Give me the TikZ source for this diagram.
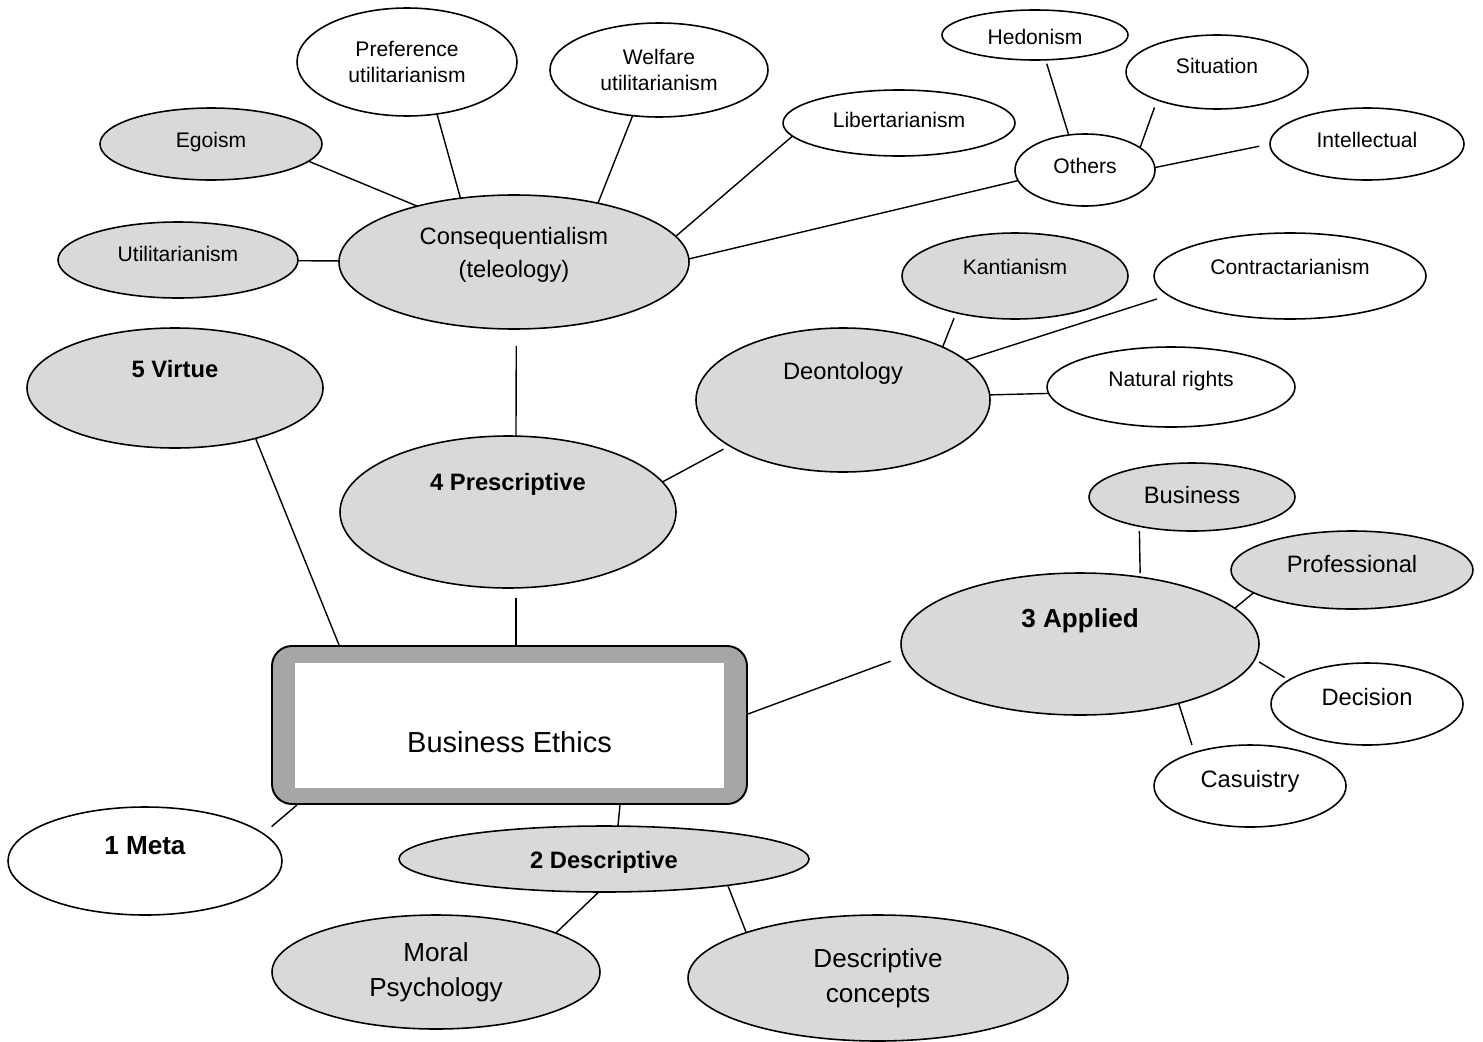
\documentclass[tikz,border=0pt]{standalone}
\usepackage{fontspec}
\setmainfont{Liberation Sans}
\usetikzlibrary{shapes.geometric}
\newlength\pxu
\setlength\pxu{0.02cm}
\tikzset{
  bub/.style = {ellipse, draw, line width=0.9pt, fill=white,
                inner sep=0pt, outer sep=0pt},
  tinted/.style = {fill=black!15!white},
  wh/.style 2 args = {minimum width=#1\pxu, minimum height=#2\pxu},
  lift/.style = {text height=0pt, text depth=#1\pxu},
  sink/.style = {text height=#1\pxu, text depth=0pt},
  sm/.style = {font=\fontsize{12}{15.3}\selectfont},
  md/.style = {font=\fontsize{13.5}{18.7}\selectfont},
  lg/.style = {font=\fontsize{14.85}{19.8}\selectfont},
  core/.style = {rectangle, rounded corners=20\pxu, draw, line width=1.1pt,
                 fill=black!35!white, inner sep=0pt,
                 minimum width=475\pxu, minimum height=158\pxu,
                 font=\fontsize{16.5}{20}\selectfont,
                 path picture={\fill[white, sharp corners]
                   ([xshift=23\pxu,yshift=16\pxu]path picture bounding box.south west) rectangle
                   ([xshift=-23\pxu,yshift=-17\pxu]path picture bounding box.north east);}},
  link/.style = {line width=0.8pt}
}

\begin{document}
\begin{tikzpicture}[x=0.02cm, y=-0.02cm]
	\useasboundingbox (0,0) rectangle (1483,1041);

	% Centre
	\node[core, sink=55] (be) at (509.5,725) {Business Ethics};

	% Consequentialism
	\node[bub, sm, wh={220}{108}, align=center] (pref) at (407,62) {Preference\\utilitarianism};
	\node[bub, sm, wh={218}{94}, align=center] (welf) at (659,70) {Welfare\\utilitarianism};
	\node[bub, tinted, sm, wh={222}{72}, sink=7] (ego) at (211,144) {Egoism};
	\node[bub, tinted, sm, wh={240}{76}, sink=3] (util) at (178,260) {Utilitarianism};
	\node[bub, tinted, md, wh={350}{134}, align=center, sink=31] (cons) at (514,262) {Consequentialism\\(teleology)};
	\node[bub, sm, wh={232}{66}, sink=9] (lib) at (899,123) {Libertarianism};
	\node[bub, sm, wh={186}{50}, sink=19] (hed) at (1035,35) {Hedonism};
	\node[bub, sm, wh={182}{74}, sink=3] (sit) at (1217,72) {Situation};
	\node[bub, sm, wh={140}{72}, sink=7] (oth) at (1085,170) {Others};
	\node[bub, sm, wh={194}{72}, sink=7] (int) at (1367,144) {Intellectual};

	% Deontology
	\node[bub, tinted, sm, wh={226}{86}, lift=3] (kant) at (1015,276) {Kantianism};
	\node[bub, sm, wh={272}{86}, lift=3] (contr) at (1290,276) {Contractarianism};
	\node[bub, tinted, md, wh={294}{144}, lift=41] (deon) at (843,400) {Deontology};
	\node[bub, sm, wh={248}{80}, lift=1] (nat) at (1171,387) {Natural rights};

	% Five branches
	\node[bub, tinted, md, wh={296}{120}, lift=21] (virt) at (175,388) {\textbf{5 Virtue}};
	\node[bub, tinted, md, wh={336}{152}, lift=43] (presc) at (508,512) {\textbf{4 Prescriptive}};
	\node[bub, tinted, lg, wh={358}{142}, lift=33] (appl) at (1080,644) {\textbf{3 Applied}};
	\node[bub, tinted, md, wh={410}{66}, sink=19] (desc) at (604,859) {\textbf{2 Descriptive}};
	\node[bub, lg, wh={274}{108}, lift=13] (meta) at (145,861) {\textbf{1 Meta}};

	% Applied
	\node[bub, tinted, md, wh={206}{68}, sink=13] (bus) at (1192,497) {Business};
	\node[bub, tinted, md, wh={242}{78}, sink=5] (prof) at (1352,570) {Professional};
	\node[bub, md, wh={192}{82}, sink=3] (dec) at (1367,704) {Decision};
	\node[bub, md, wh={192}{82}, sink=3] (cas) at (1250,786) {Casuistry};

	% Descriptive
	\node[bub, tinted, lg, wh={328}{114}, align=center] (moral) at (436,972) {Moral\\Psychology};
	\node[bub, tinted, lg, wh={380}{126}, align=center] (dcon) at (878,978) {Descriptive\\concepts};

	% Links
	\draw[link] (ego.-10) -- (cons.150);
	\draw[link] (pref.-60) -- (cons.130);
	\draw[link] (welf.-120) -- (cons.35);
	\draw[link] (util) -- (cons);
	\draw[link] (lib.-173) -- (cons.9.5);
	\draw[link] (oth.-171) -- (cons.1);
	\draw[link, shorten <=4\pxu] (hed.-67) -- (oth.115);
	\draw[link, shorten <=8\pxu] (sit.-155) -- (oth.22);
	\draw[link, shorten >=11\pxu] (oth.2) -- (int.west);
	\draw[link, shorten <=6\pxu] (kant.-148) -- (deon.28);
	\draw[link, shorten <=12\pxu] (contr.-171.5) -- (deon.18);
	\draw[link] (nat.-177) -- (deon.2);
	\draw[link, shorten >=7\pxu] (presc.11) -- (deon.-158);
	\draw[link, shorten <=17\pxu] (cons.-88) -- (presc.84);
	\draw[link, shorten <=10\pxu] (presc.-84) -- (presc.-84 |- be.north);
	\draw[link] (virt.-32) -- ([xshift=68\pxu]be.north west);
	\draw[link, shorten >=14\pxu] ([yshift=11\pxu]be.east) -- (appl.-176);
	\draw[link, shorten <=5\pxu, shorten >=4\pxu] (bus.-151) -- (appl.48);
	\draw[link] (prof.-167) -- (appl.13.5);
	\draw[link, shorten <=5\pxu, shorten >=5\pxu] (dec.163) -- (appl.-5);
	\draw[link, shorten <=8\pxu] (cas.149) -- (appl.-31);
	\draw[link, shorten <=11\pxu] (meta.13) -- ([xshift=26\pxu]be.south west);
	\draw[link] ([xshift=110.5\pxu]be.south) -- (desc.67);
	\draw[link] (desc.-99) -- (moral.18);
	\draw[link] (desc.-12) -- (dcon.161);

\end{tikzpicture}
\end{document}
